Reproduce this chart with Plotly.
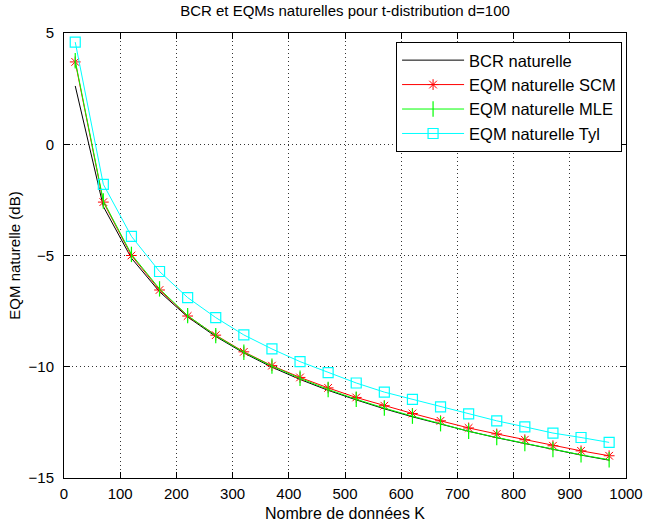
import plotly.graph_objects as go

K = [20, 70, 120, 170, 220, 270, 320, 370, 420, 470, 520, 570, 620, 670, 720, 770, 820, 870, 920, 970]
bcr = [2.62, -2.8, -5.12, -6.63, -7.76, -8.64, -9.38, -10.02, -10.57, -11.06, -11.49, -11.89, -12.25, -12.59, -12.9, -13.19, -13.46, -13.72, -13.97, -14.2]
scm = [3.7, -2.6, -5.0, -6.55, -7.72, -8.58, -9.33, -9.95, -10.48, -10.95, -11.38, -11.75, -12.1, -12.43, -12.75, -13.02, -13.28, -13.55, -13.78, -14.0]
mle = [3.75, -2.55, -4.95, -6.5, -7.7, -8.6, -9.35, -9.97, -10.52, -11.02, -11.46, -11.86, -12.22, -12.56, -12.9, -13.18, -13.45, -13.72, -13.96, -14.18]
tyl = [4.59, -1.8, -4.14, -5.72, -6.89, -7.79, -8.57, -9.2, -9.77, -10.26, -10.73, -11.14, -11.47, -11.8, -12.12, -12.43, -12.7, -12.98, -13.18, -13.4]

names = ["BCR naturelle", "EQM naturelle SCM", "EQM naturelle MLE", "EQM naturelle Tyl"]
x_ticks = [0, 100, 200, 300, 400, 500, 600, 700, 800, 900, 1000]
y_ticks = [-15, -10, -5, 0, 5]

FONT = "Liberation Sans, Arial, sans-serif"

fig = go.Figure()
fig.add_trace(go.Scatter(x=K, y=bcr, name=names[0], mode="lines",
                         line=dict(color="black", width=1)))
fig.add_trace(go.Scatter(x=K, y=scm, name=names[1], mode="lines+markers",
                         line=dict(color="#FF0000", width=1),
                         marker=dict(symbol="asterisk-open", size=9, color="#FF0000",
                                     line=dict(color="#FF0000", width=1))))
fig.add_trace(go.Scatter(x=K, y=mle, name=names[2], mode="lines+markers",
                         line=dict(color="#00FF00", width=1),
                         marker=dict(symbol="line-ns-open", size=11, color="#00FF00",
                                     line=dict(color="#00FF00", width=1.2))))
fig.add_trace(go.Scatter(x=K, y=tyl, name=names[3], mode="lines+markers",
                         line=dict(color="#00FFFF", width=1),
                         marker=dict(symbol="square-open", size=10, color="#00FFFF",
                                     line=dict(color="#00FFFF", width=1.2))))

axis_common = dict(showline=True, linecolor="black", linewidth=1, mirror="ticks",
                   ticks="inside", ticklen=6, tickcolor="black", automargin=False,
                   showgrid=True, gridcolor="#333333", gridwidth=1, griddash="1px,3px",
                   zeroline=False, tickfont=dict(family=FONT, size=15, color="black"))

fig.update_xaxes(range=[0, 1000], tickvals=x_ticks, ticklabelstandoff=2,
                 title=dict(text="Nombre de données K", font=dict(family=FONT, size=16, color="black"), standoff=6),
                 **axis_common)
fig.update_yaxes(range=[-15, 5], tickvals=y_ticks, ticklabelstandoff=6,
                 title=dict(text="EQM naturelle (dB)", font=dict(family=FONT, size=15, color="black"), standoff=4),
                 **axis_common)

fig.update_layout(
    width=647, height=524,
    margin=dict(l=64, r=21, t=33, b=46),
    paper_bgcolor="white", plot_bgcolor="white",
    title=dict(text="BCR et EQMs naturelles pour t-distribution d=100",
               font=dict(family=FONT, size=15, color="black"),
               x=0.5, xanchor="center", xref="paper", y=0.99, yanchor="top"),
    font=dict(family=FONT, size=15, color="black"),
    legend=dict(x=0.993, y=0.98, xanchor="right", yanchor="top",
                bgcolor="white", bordercolor="black", borderwidth=1,
                font=dict(family=FONT, size=16.5, color="black"),
                itemwidth=62, tracegroupgap=0),
    showlegend=True,
)

fig.write_html("out.html", config={"displayModeBar": False},
               post_script="document.body.style.margin='0';document.body.style.overflow='hidden';")
